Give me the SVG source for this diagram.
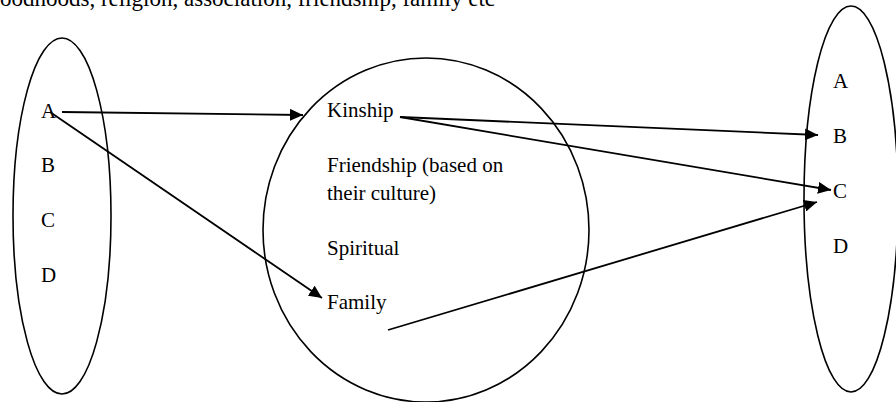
<svg xmlns="http://www.w3.org/2000/svg" width="896" height="402" viewBox="0 0 896 402">
<defs>
<style>
.t{font-family:"Liberation Serif","Times New Roman",serif;font-size:21px;fill:#000}
.e{fill:none;stroke:#000;stroke-width:1.6}
.c{fill:none;stroke:#000;stroke-width:1.8}
</style>
<marker id="ah" markerUnits="userSpaceOnUse" markerWidth="14" markerHeight="12" refX="13" refY="6" orient="auto">
<path d="M0,0 L13,6 L0,12 Z" fill="#000"/>
</marker>
</defs>
<rect width="896" height="402" fill="#fff"/>
<text class="t" x="0" y="6" style="font-size:23px">oodhoods, religion, association, friendship, family etc</text>
<g id="left-set">
<ellipse class="e" cx="62" cy="216" rx="49" ry="178"/>
<text class="t" x="41" y="118">A</text>
<text class="t" x="41" y="172">B</text>
<text class="t" x="41" y="227">C</text>
<text class="t" x="41" y="282">D</text>
</g>
<g id="middle-set">
<ellipse class="e" cx="426" cy="230" rx="163" ry="172"/>
<text class="t" x="327" y="117">Kinship</text>
<text class="t" x="327" y="172">Friendship (based on</text>
<text class="t" x="327" y="200">their culture)</text>
<text class="t" x="327" y="255">Spiritual</text>
<text class="t" x="327" y="309">Family</text>
</g>
<g id="right-set">
<ellipse class="e" cx="851" cy="199" rx="47" ry="193"/>
<text class="t" x="833" y="88">A</text>
<text class="t" x="833" y="143">B</text>
<text class="t" x="833" y="198">C</text>
<text class="t" x="833" y="253">D</text>
</g>
<g id="connectors">
<line class="c" x1="62" y1="112" x2="303" y2="115" marker-end="url(#ah)"/>
<line class="c" x1="50" y1="112" x2="322" y2="298" marker-end="url(#ah)"/>
<line class="c" x1="400" y1="117" x2="818" y2="135" marker-end="url(#ah)"/>
<line class="c" x1="400" y1="117" x2="831" y2="190" marker-end="url(#ah)"/>
<line class="c" x1="388" y1="330" x2="817" y2="202" marker-end="url(#ah)"/>
</g>
</svg>
